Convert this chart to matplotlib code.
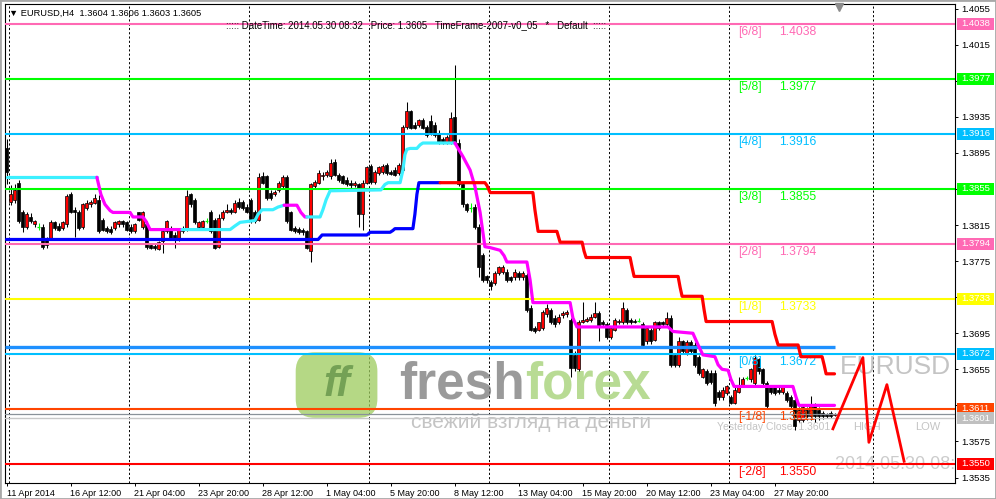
"""Recreate the EURUSD H4 MetaTrader chart with Murrey Math levels."""

import matplotlib
matplotlib.use("Agg")
import matplotlib.pyplot as plt
import matplotlib.transforms as mtransforms
from matplotlib.patches import FancyBboxPatch, Rectangle
import numpy as np

PIP = 10000.0
FONT = ["Liberation Sans", "DejaVu Sans"]

# H4 candles, prices in pips (13850 = 1.3850), oldest first
opens = [
    13901, 13841, 13843, 13862, 13830, 13813, 13824, 13816, 13813, 13813,
    13799, 13801, 13818, 13814, 13812, 13816, 13849, 13832, 13830, 13813,
    13834, 13838, 13840, 13843, 13821, 13812, 13811, 13812, 13816, 13819,
    13818, 13813, 13808, 13829, 13813, 13816, 13793, 13792, 13788, 13797,
    13808, 13812, 13804, 13799, 13808, 13810, 13849, 13843, 13813, 13813,
    13820, 13830, 13821, 13791, 13823, 13830, 13832, 13830, 13841, 13841,
    13835, 13843, 13829, 13821, 13869, 13869, 13851, 13849, 13854, 13858,
    13868, 13829, 13812, 13811, 13810, 13808, 13786, 13858, 13862, 13869,
    13871, 13869, 13885, 13871, 13869, 13865, 13862, 13859, 13860, 13827,
    13862, 13880, 13863, 13873, 13874, 13882, 13874, 13876, 13873, 13876,
    13924, 13941, 13926, 13926, 13932, 13924, 13930, 13926, 13917, 13911,
    13907, 13907, 13935, 13906, 13860, 13838, 13834, 13835, 13813, 13782,
    13758, 13752, 13751, 13762, 13763, 13763, 13757, 13757, 13762, 13757,
    13760, 13723, 13701, 13699, 13701, 13716, 13721, 13712, 13707, 13715,
    13716, 13710, 13671, 13655, 13708, 13709, 13710, 13713, 13718, 13708,
    13705, 13691, 13699, 13707, 13707, 13721, 13710, 13709, 13709, 13705,
    13686, 13699, 13688, 13707, 13707, 13705, 13712, 13671, 13660, 13686,
    13673, 13685, 13682, 13669, 13647, 13653, 13651, 13651, 13630, 13624,
    13629, 13624, 13618, 13630, 13638, 13645, 13644, 13640, 13666, 13655,
    13640, 13635, 13635, 13632, 13630, 13629, 13624, 13621, 13599, 13599,
    13610, 13603, 13616, 13610, 13607, 13605, 13607, 13604,
]
highs = [
    13910, 13859, 13860, 13865, 13832, 13830, 13828, 13821, 13817, 13816,
    13802, 13821, 13820, 13817, 13820, 13849, 13852, 13835, 13832, 13840,
    13843, 13843, 13849, 13848, 13823, 13814, 13814, 13820, 13821, 13821,
    13820, 13816, 13817, 13830, 13831, 13819, 13794, 13795, 13797, 13810,
    13821, 13814, 13807, 13811, 13814, 13854, 13851, 13845, 13819, 13821,
    13823, 13832, 13823, 13827, 13832, 13838, 13834, 13843, 13845, 13843,
    13838, 13845, 13832, 13873, 13874, 13871, 13854, 13854, 13864, 13870,
    13870, 13831, 13814, 13813, 13812, 13810, 13862, 13865, 13876, 13874,
    13876, 13888, 13888, 13873, 13871, 13868, 13865, 13864, 13862, 13865,
    13881, 13883, 13876, 13881, 13883, 13884, 13876, 13879, 13884, 13926,
    13951, 13943, 13929, 13933, 13934, 13926, 13937, 13929, 13920, 13913,
    13915, 13940, 13992, 13910, 13862, 13840, 13840, 13838, 13816, 13784,
    13760, 13754, 13764, 13770, 13771, 13766, 13759, 13766, 13764, 13764,
    13762, 13726, 13703, 13708, 13721, 13727, 13723, 13715, 13716, 13720,
    13721, 13712, 13675, 13710, 13730, 13713, 13716, 13730, 13720, 13710,
    13707, 13703, 13712, 13711, 13730, 13723, 13712, 13711, 13712, 13707,
    13703, 13701, 13709, 13709, 13709, 13719, 13715, 13673, 13691, 13688,
    13687, 13687, 13685, 13671, 13657, 13655, 13654, 13654, 13632, 13635,
    13638, 13626, 13635, 13647, 13646, 13648, 13657, 13671, 13668, 13657,
    13642, 13637, 13637, 13635, 13637, 13631, 13626, 13624, 13613, 13615,
    13613, 13625, 13618, 13613, 13609, 13607, 13609, 13606,
]
lows = [
    13860, 13837, 13840, 13817, 13807, 13811, 13817, 13813, 13810, 13788,
    13789, 13799, 13810, 13808, 13810, 13813, 13828, 13802, 13810, 13811,
    13832, 13835, 13838, 13806, 13808, 13806, 13805, 13810, 13813, 13813,
    13808, 13806, 13806, 13819, 13811, 13788, 13788, 13787, 13787, 13784,
    13806, 13799, 13790, 13797, 13806, 13808, 13835, 13816, 13812, 13811,
    13817, 13806, 13788, 13790, 13821, 13828, 13827, 13828, 13833, 13832,
    13828, 13817, 13817, 13819, 13860, 13843, 13843, 13847, 13852, 13855,
    13817, 13808, 13806, 13805, 13804, 13788, 13774, 13855, 13860, 13865,
    13868, 13866, 13869, 13863, 13860, 13858, 13855, 13857, 13813, 13810,
    13860, 13861, 13861, 13871, 13872, 13871, 13870, 13869, 13871, 13874,
    13922, 13921, 13921, 13924, 13921, 13913, 13915, 13913, 13905, 13905,
    13905, 13905, 13904, 13858, 13835, 13830, 13829, 13811, 13757, 13752,
    13751, 13743, 13749, 13760, 13761, 13752, 13752, 13754, 13754, 13754,
    13719, 13697, 13695, 13697, 13699, 13713, 13705, 13702, 13705, 13712,
    13713, 13647, 13653, 13653, 13706, 13707, 13708, 13712, 13686, 13702,
    13689, 13689, 13697, 13705, 13705, 13705, 13705, 13706, 13707, 13680,
    13683, 13683, 13686, 13699, 13702, 13702, 13658, 13658, 13658, 13672,
    13671, 13672, 13658, 13649, 13645, 13638, 13639, 13614, 13621, 13621,
    13627, 13616, 13616, 13629, 13636, 13643, 13641, 13638, 13650, 13638,
    13611, 13628, 13627, 13628, 13628, 13619, 13611, 13588, 13597, 13597,
    13599, 13599, 13597, 13599, 13600, 13601, 13601, 13603,
]
closes = [
    13874, 13849, 13854, 13819, 13813, 13827, 13819, 13819, 13813, 13791,
    13793, 13818, 13812, 13810, 13818, 13847, 13830, 13830, 13812, 13838,
    13840, 13841, 13845, 13808, 13810, 13808, 13807, 13818, 13819, 13816,
    13810, 13808, 13816, 13821, 13829, 13791, 13790, 13789, 13796, 13808,
    13819, 13801, 13799, 13810, 13812, 13847, 13838, 13818, 13818, 13819,
    13820, 13808, 13790, 13823, 13830, 13832, 13829, 13839, 13835, 13834,
    13830, 13819, 13819, 13868, 13862, 13845, 13845, 13852, 13862, 13868,
    13819, 13810, 13808, 13807, 13807, 13790, 13860, 13863, 13873, 13871,
    13874, 13884, 13871, 13865, 13862, 13860, 13859, 13862, 13827, 13862,
    13879, 13863, 13874, 13879, 13881, 13873, 13872, 13871, 13882, 13924,
    13941, 13923, 13923, 13931, 13923, 13915, 13917, 13915, 13907, 13907,
    13913, 13934, 13906, 13860, 13838, 13832, 13834, 13813, 13768, 13754,
    13754, 13747, 13762, 13768, 13769, 13754, 13754, 13763, 13757, 13762,
    13721, 13699, 13697, 13707, 13719, 13723, 13707, 13705, 13713, 13718,
    13719, 13657, 13657, 13708, 13710, 13711, 13713, 13718, 13702, 13705,
    13691, 13701, 13710, 13709, 13723, 13707, 13707, 13708, 13709, 13682,
    13701, 13686, 13707, 13701, 13705, 13712, 13660, 13660, 13686, 13675,
    13685, 13675, 13660, 13651, 13655, 13640, 13641, 13618, 13624, 13632,
    13636, 13618, 13632, 13638, 13644, 13645, 13655, 13668, 13653, 13640,
    13614, 13630, 13629, 13630, 13635, 13621, 13614, 13592, 13610, 13613,
    13603, 13614, 13603, 13603, 13603, 13603, 13603, 13605,
]

date_labels = [
    "11 Apr 2014", "16 Apr 12:00", "21 Apr 04:00", "23 Apr 20:00",
    "28 Apr 12:00", "1 May 04:00", "5 May 20:00", "8 May 12:00",
    "13 May 04:00", "15 May 20:00", "20 May 12:00", "23 May 04:00",
    "27 May 20:00",
]

# fast trend line: x in bars, price in pips, 1 = cyan (up) segment, 0 = magenta
fast_x = [
    0, 22.6, 23.6, 24.6, 25.9, 26.6, 30.9, 31.6, 34.1, 34.9, 35.9, 43.9,
    55.9, 57.1, 58.4, 62.1, 62.9, 63.9, 66.6, 67.9, 69.4, 72.6, 73.6, 74.6,
    75.1, 78.4, 79.1, 79.9, 80.9, 93.6, 94.6, 95.4, 98.4, 99.1, 99.6, 100.1,
    100.9, 102.6, 103.4, 104.1, 112.1, 114.1, 115.9, 117.1, 118.4, 119.6,
    120.9, 123.4, 124.4, 125.1, 130.1, 130.9, 131.6, 140.9, 141.6, 142.6,
    165.4, 166.6, 171.6, 172.9, 174.1, 177.1, 177.9, 178.9, 180.4, 181.1,
    181.9, 196.6, 197.4, 198.1, 207.0,
]
fast_p = [
    13868, 13868, 13849, 13838, 13831, 13829, 13829, 13824, 13824, 13819,
    13810, 13810, 13810, 13814, 13818, 13820, 13827, 13832, 13832, 13835,
    13837, 13837, 13829, 13824, 13824, 13824, 13832, 13843, 13853, 13854,
    13860, 13862, 13862, 13876, 13893, 13899, 13900, 13900, 13904, 13906,
    13906, 13891, 13876, 13858, 13829, 13791, 13790, 13787, 13781, 13774,
    13774, 13754, 13729, 13729, 13712, 13702, 13702, 13697, 13695, 13682,
    13671, 13669, 13660, 13655, 13654, 13644, 13636, 13636, 13624, 13615,
    13615,
]
fast_up = [1] * 2 + [0] * 10 + [1] * 9 + [0] * 4 + [1] * 16 + [0] * 30

# slow trend line: 1 = blue (up), 0 = red (down)
slow_x = [
    0, 77.9, 78.9, 90.1, 90.9, 95.9, 96.6, 97.1, 101.6, 102.1, 102.6, 103.1,
    108.4, 119.6, 120.1, 120.9, 131.6, 132.1, 132.9, 137.6, 138.4, 143.9,
    144.4, 144.9, 155.9, 156.4, 156.9, 167.9, 168.4, 168.9, 173.9, 174.4,
    174.9, 191.4, 192.1, 192.9, 197.9, 198.6, 199.1, 203.9, 204.4, 204.9,
    207.0,
]
slow_p = [
    13799, 13799, 13804, 13804, 13807, 13807, 13809, 13811, 13811, 13827,
    13849, 13862, 13862, 13862, 13859, 13851, 13851, 13832, 13808, 13808,
    13796, 13796, 13786, 13779, 13779, 13768, 13758, 13758, 13746, 13736,
    13736, 13721, 13708, 13708, 13694, 13682, 13682, 13669, 13669, 13669,
    13660, 13650, 13650,
]
slow_up = [1] * 13 + [0] * 30

# projected zigzag past the last bar
zigzag_x = [206.6, 214.1, 215.6, 220.1, 224.4]
zigzag_p = [13589, 13668, 13574, 13638, 13553]

# Murrey Math levels
mm_tags = ["[6/8]", "[5/8]", "[4/8]", "[3/8]", "[2/8]", "[1/8]", "[0/8]", "[-1/8]", "[-2/8]"]
mm_prices = [1.4038, 1.3977, 1.3916, 1.3855, 1.3794, 1.3733, 1.3672, 1.3611, 1.3550]
mm_colours = ["#FF69B4", "#00FF00", "#00BFFF", "#00FF00", "#FF69B4",
              "#FFFF00", "#00BFFF", "#FF4500", "#FF0000"]

support_level = 1.3680
bid_price = 1.3605
yesterday_close = 1.3601

tag_prices = mm_prices[:8] + [yesterday_close, mm_prices[8]]
tag_colours = mm_colours[:8] + ["#C0C0C0", mm_colours[8]]
axis_ticks = [1.4055, 1.4015, 1.3975, 1.3935, 1.3895, 1.3855, 1.3815,
              1.3775, 1.3735, 1.3695, 1.3655, 1.3615, 1.3575, 1.3535]
# scale labels that sit under a coloured price tag in the terminal
hidden_ticks = [1.3975, 1.3855, 1.3735]


def draw_trend(ax, xs, ps, up, up_colour, down_colour, lw):
    xs = np.asarray(xs)
    ps = np.asarray(ps) / PIP
    run = [0]
    state = up[1]
    for k in range(1, len(xs)):
        if up[k] != state:
            ax.plot(xs[run], ps[run], color=up_colour if state else down_colour,
                    lw=lw, solid_capstyle="round", zorder=4)
            run = [k - 1]
            state = up[k]
        run.append(k)
    ax.plot(xs[run], ps[run], color=up_colour if state else down_colour,
            lw=lw, solid_capstyle="round", zorder=4)


def main():
    plt.rcParams["font.family"] = FONT
    fig = plt.figure(figsize=(9.96, 4.99), dpi=100)
    ax = fig.add_axes([5 / 996, 16 / 499, 950 / 996, 479 / 499])
    ax.set_xlim(-0.375, 237.125)
    ax.set_ylim(1.352891, 1.406018)

    o = np.array(opens) / PIP
    h = np.array(highs) / PIP
    l = np.array(lows) / PIP
    c = np.array(closes) / PIP
    x = np.arange(len(o))
    bull = c > o
    bear = c < o
    doji = c == o

    # vertical dashed grid
    for gx in [0.6, 30.6, 60.6, 90.6, 120.6, 150.6, 180.6, 216.6]:
        ax.axvline(gx, color="black", lw=0.7, ls=(0, (2.2, 2.2)), zorder=0.8)

    # watermark
    logo = FancyBboxPatch((0.306, 0.136), 0.086, 0.137, transform=ax.transAxes,
                          boxstyle="round,pad=0,rounding_size=0.02",
                          mutation_aspect=1.98, facecolor="#9CCB5C",
                          edgecolor="none", alpha=0.75, zorder=1)
    ax.add_patch(logo)
    ax.text(0.349, 0.205, "ff", transform=ax.transAxes, fontsize=30,
            fontweight="bold", style="italic", color="#5E8F45", alpha=0.75,
            ha="center", va="center", zorder=1.1)
    ax.text(0.547, 0.205, "fresh", transform=ax.transAxes, fontsize=37,
            fontweight="bold", color="#787878", alpha=0.75, ha="right",
            va="center", zorder=1.1)
    ax.text(0.547, 0.205, "forex", transform=ax.transAxes, fontsize=37,
            fontweight="bold", color="#A6D37A", alpha=0.8, ha="left",
            va="center", zorder=1.1)
    ax.text(0.554, 0.127, "свежий взгляд на деньги", transform=ax.transAxes,
            fontsize=15, color="#C4C4C4", ha="center", va="center", zorder=1.1)

    # candles
    wick_colours = np.where(doji, "#00FF00", "black")
    ax.vlines(x, l, h, colors=wick_colours, lw=0.75, zorder=2)
    ax.bar(x[bull], (c - o)[bull], bottom=o[bull], width=0.6, color="red",
           edgecolor="black", linewidth=0.5, zorder=2.2)
    ax.bar(x[bear], (o - c)[bear], bottom=c[bear], width=0.6, color="black",
           edgecolor="black", linewidth=0.5, zorder=2.2)
    ax.hlines(c[doji], x[doji] - 0.45, x[doji] + 0.45, colors="#00FF00",
              lw=0.9, zorder=2.2)

    # horizontal levels
    for price, col in zip(mm_prices, mm_colours):
        ax.axhline(price, color=col, lw=1.5, zorder=3)
    ax.axhline(bid_price, color="#8A9299", lw=0.9, zorder=3)
    ax.axhline(yesterday_close, color="#C8C8C8", lw=1.0, zorder=3)
    ax.hlines(support_level, -0.375, 207, color="#1E90FF", lw=2.4, zorder=3.1)

    for tag, price, col in zip(mm_tags, mm_prices, mm_colours):
        ax.annotate(tag, (182.9, price), xytext=(0, -6), textcoords="offset points",
                    fontsize=8.7, color=col, va="center", ha="left", zorder=3.5)
        ax.annotate(f"{price:.4f}", (193.1, price), xytext=(0, -6),
                    textcoords="offset points", fontsize=8.7, color=col,
                    va="center", ha="left", zorder=3.5)

    # trend indicators
    draw_trend(ax, fast_x, fast_p, fast_up, "#3CF0FF", "#FF00FF", 2.3)
    draw_trend(ax, slow_x, slow_p, slow_up, "#0000FF", "#FF0000", 2.3)
    ax.plot(zigzag_x, np.array(zigzag_p) / PIP, color="#FF0000", lw=2.0, zorder=4)

    # overlay texts
    ax.text(0.879, 0.242, "EURUSD", transform=ax.transAxes, fontsize=19,
            color="#C4C4C4", ha="left", va="center", zorder=1.5)
    ax.text(0.893, 0.117, "HIGH", transform=ax.transAxes, fontsize=8,
            color="#C4C4C4", ha="left", va="center", zorder=1.5)
    ax.text(0.958, 0.117, "LOW", transform=ax.transAxes, fontsize=8,
            color="#C4C4C4", ha="left", va="center", zorder=1.5)
    ax.text(0.749, 0.117, f"Yesterday Close: {yesterday_close:.4f}",
            transform=ax.transAxes, fontsize=7.5, color="#C4C4C4",
            ha="left", va="center", zorder=1.5)
    ax.text(0.874, 0.038, "2014.05.30 08:32", transform=ax.transAxes,
            fontsize=13, color="#CCCCCC", ha="left", va="center",
            zorder=1.5, clip_on=True)
    ax.plot([0.878], [0.9937], marker="v", color="#8C8C8C", markersize=6,
            transform=ax.transAxes, clip_on=False, zorder=5)

    # axes styling
    for side in ax.spines.values():
        side.set_color("black")
        side.set_linewidth(0.8)
    ax.set_xticks(range(0, 16 * len(date_labels), 16))
    ax.set_xticklabels(date_labels, fontsize=6.5, ha="left")
    ax.tick_params(axis="x", length=2.5, width=0.7, pad=1.5, direction="out")
    ax.yaxis.tick_right()
    ax.set_yticks(axis_ticks)
    ax.set_yticklabels(["" if t in hidden_ticks else f"{t:.4f}" for t in axis_ticks],
                       fontsize=6.8)
    ax.tick_params(axis="y", length=2.5, width=0.7, pad=2, direction="out")

    # coloured price tags on the right scale
    blend = mtransforms.blended_transform_factory(ax.transAxes, ax.transData)
    for price, col in zip(tag_prices, tag_colours):
        ax.add_patch(Rectangle((1.0021, price - 0.00064), 0.0389, 0.00128,
                               transform=blend, facecolor=col, edgecolor="none",
                               clip_on=False, zorder=10))
        ax.text(1.0215, price, f"{price:.4f}", transform=blend, fontsize=6.8,
                color="white", ha="center", va="center", clip_on=False, zorder=11)

    # header texts
    fig.text(9 / 996, 1 - 13 / 499, "\u25bc EURUSD,H4  1.3604 1.3606 1.3603 1.3605",
             fontsize=6.7, va="center", ha="left", family=FONT)
    fig.text(226 / 996, 1 - 25 / 499,
             "::::: DateTime: 2014.05.30 08:32   Price: 1.3605   "
             "TimeFrame-2007-v0_05   *   Default  :::::",
             fontsize=6.9, va="center", ha="left", family=FONT, zorder=12)

    fig.add_artist(Rectangle((0, 0), 1, 1, transform=fig.transFigure, fill=False,
                             edgecolor="#A8A8A8", lw=2.0))
    fig.savefig("out.png", dpi=100)
    plt.close(fig)


if __name__ == "__main__":
    main()
